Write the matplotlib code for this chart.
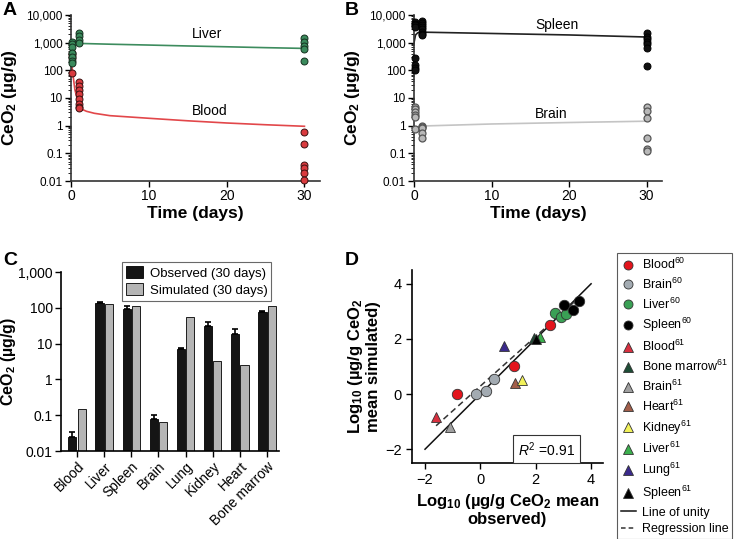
import numpy as np
import matplotlib
matplotlib.use('Agg')
import matplotlib.pyplot as plt
from matplotlib.ticker import FixedLocator, FuncFormatter, LogLocator, NullFormatter
from matplotlib.lines import Line2D

plt.rcParams['font.family'] = ['Liberation Sans', 'DejaVu Sans']
plt.rcParams['mathtext.fontset'] = 'custom'
plt.rcParams['mathtext.rm'] = 'Liberation Sans'
plt.rcParams['mathtext.it'] = 'Liberation Sans:italic'
plt.rcParams['mathtext.bf'] = 'Liberation Sans:bold'

# ---- Panel A / B observed points (time in days, CeO2 ug/g) ----
liver_t = [0.1] * 7 + [1] * 4 + [30] * 5
liver_obs = [1085, 900, 715, 410, 310, 222, 190, 2180, 1740, 1250, 950, 1510, 1085, 777, 575, 222]
blood_t = [0.1] * 4 + [1] * 8 + [30] * 6
blood_obs = [436, 356, 270, 78, 39, 27, 19.5, 13.5, 8.9, 6.3, 4.8, 4.2, 0.575, 0.21, 0.037, 0.029, 0.02, 0.011]
spleen_t = [0.1] * 8 + [1] * 8 + [30] * 7
spleen_obs = [5700, 4800, 4200, 3800, 270, 155, 125, 102,
              6200, 5300, 4400, 3600, 3000, 2500, 2100, 1900,
              2180, 1650, 1320, 1080, 870, 660, 147]
brain_t = [0.1] * 6 + [1] * 5 + [30] * 6
brain_obs = [4.9, 4.0, 3.2, 2.5, 2.0, 0.78, 1.0, 0.9, 0.79, 0.56, 0.37, 4.6, 3.5, 1.9, 0.36, 0.14, 0.125]

# simulated curves
blood_sim_t = [0, 0.1, 0.5, 1.0, 1.5, 2, 3, 5, 10, 15, 20, 25, 30]
blood_sim = [400, 150, 20, 5.5, 3.8, 3.3, 2.8, 2.3, 1.85, 1.5, 1.25, 1.08, 0.95]
liver_sim_t = [0, 0.1, 0.5, 1, 5, 10, 15, 20, 25, 30]
liver_sim = [300, 900, 950, 940, 880, 820, 760, 710, 660, 620]
spleen_sim_t = [0, 0.2, 0.5, 1, 10, 20, 30]
spleen_sim = [1000, 1900, 2300, 2400, 2150, 1900, 1600]
brain_sim_t = [0, 0.5, 1, 10, 20, 30]
brain_sim = [0.75, 0.9, 0.97, 1.15, 1.3, 1.45]

# ---- Panel C ----
organs = ['Blood', 'Liver', 'Spleen', 'Brain', 'Lung', 'Kidney', 'Heart', 'Bone marrow']
observed_30 = [0.025, 140, 95, 0.08, 7.2, 31, 18, 78]
observed_err = [0.01, 5, 15, 0.02, 0.5, 8, 7, 4]
simulated_30 = [0.15, 130, 115, 0.066, 57, 3.3, 2.6, 115]

# ---- Panel D (log10 observed, log10 simulated) ----
d_series = [
    ('Blood$^{60}$', 'o', '#e3141c', [-0.85, 1.2, 2.53], [0.0, 1.02, 2.5]),
    ('Brain$^{60}$', 'o', '#a3abb2', [-0.15, 0.2, 0.5], [0.0, 0.12, 0.54]),
    ('Liver$^{60}$', 'o', '#3aa055', [2.7, 2.9, 3.1], [2.95, 2.78, 2.9]),
    ('Spleen$^{60}$', 'o', '#000000', [3.01, 3.35, 3.55], [3.24, 3.04, 3.38]),
    ('Blood$^{61}$', '^', '#d8303f', [-1.61], [-0.83]),
    ('Bone marrow$^{61}$', '^', '#1e4d36', [1.92], [2.03]),
    ('Brain$^{61}$', '^', '#a0a0a0', [-1.09], [-1.19]),
    ('Heart$^{61}$', '^', '#a25e4a', [1.26], [0.41]),
    ('Kidney$^{61}$', '^', '#f2f25a', [1.5], [0.51]),
    ('Liver$^{61}$', '^', '#3cb04e', [2.14], [2.08]),
    ('Lung$^{61}$', '^', '#3b2a8c', [0.86], [1.75]),
    ('Spleen$^{61}$', '^', '#000000', [2.0], [2.0]),
]
unity_x = [-2, 4]
regress_x = [-1.6, 3.5]
regress_slope = 0.9
regress_icpt = 0.29

W, H = 745, 539
fig = plt.figure(figsize=(W / 100, H / 100), dpi=100)


def fpos(l, t, r, b):
    return [l / W, 1 - b / H, (r - l) / W, (b - t) / H]


def comma_fmt(v, pos):
    if v >= 1:
        return '{:,.0f}'.format(v)
    return '{:g}'.format(v)


def style_time_axis(ax):
    ax.set_yscale('log')
    ax.set_ylim(0.01, 10000)
    ax.set_xlim(0, 32)
    ax.set_xticks([0, 10, 20, 30])
    ax.yaxis.set_major_locator(FixedLocator([0.01, 0.1, 1, 10, 100, 1000, 10000]))
    ax.yaxis.set_major_formatter(FuncFormatter(comma_fmt))
    ax.yaxis.set_minor_locator(LogLocator(base=10, subs=np.arange(2, 10), numticks=20))
    ax.yaxis.set_minor_formatter(NullFormatter())
    for s in ['top', 'right']:
        ax.spines[s].set_visible(False)
    ax.tick_params(axis='both', which='major', labelsize=8.5, length=4, width=1, direction='out', pad=2)
    ax.tick_params(axis='y', which='minor', length=2, width=0.6)
    ax.tick_params(axis='x', labelsize=10)
    ax.set_xlabel('Time (days)', fontsize=12.5, fontweight='bold', labelpad=2)
    ax.set_ylabel('CeO$_\\mathbf{2}$ (µg/g)', fontsize=12.5, fontweight='bold', labelpad=5)
    for s in ['left', 'bottom']:
        ax.spines[s].set_linewidth(1.2)
        ax.spines[s].set_color('#333333')


# ---- A ----
axA = fig.add_axes(fpos(71, 15, 320, 181))
style_time_axis(axA)
axA.plot(liver_sim_t, liver_sim, color='#3d8c5e', lw=1.2, zorder=2)
axA.plot(blood_sim_t, blood_sim, color='#e2474a', lw=1.2, zorder=2)
axA.plot(blood_t, blood_obs, 'o', ms=5, mfc='#d93a3e', mec='#3a1010', mew=0.7, clip_on=False, zorder=3)
axA.plot(liver_t, liver_obs, 'o', ms=5, mfc='#3a8a5c', mec='#15301f', mew=0.7, clip_on=False, zorder=4)
axA.text(17.5, 2050, 'Liver', fontsize=10, ha='center', va='center')
axA.text(17.8, 3.4, 'Blood', fontsize=10, ha='center', va='center')

# ---- B ----
axB = fig.add_axes(fpos(414, 15, 662, 181))
style_time_axis(axB)
axB.plot(spleen_sim_t, spleen_sim, color='#222222', lw=1.2, zorder=2)
axB.plot(brain_sim_t, brain_sim, color='#c4c4c4', lw=1.2, zorder=2)
axB.plot(spleen_t, spleen_obs, 'o', ms=5, mfc='#111111', mec='#000000', mew=0.7, clip_on=False, zorder=3)
axB.plot(brain_t, brain_obs, 'o', ms=5, mfc='#b8b8b8', mec='#555555', mew=0.9, clip_on=False, zorder=3)
axB.text(18.4, 4340, 'Spleen', fontsize=10, ha='center', va='center')
axB.text(17.7, 2.6, 'Brain', fontsize=10, ha='center', va='center')

# ---- C ----
axC = fig.add_axes(fpos(61, 272, 279, 451))
x = np.arange(len(organs))
bw = 0.3
axC.bar(x - 0.17, observed_30, bw, color='#151515', edgecolor='#000000', lw=0.6,
        yerr=[np.zeros(len(organs)), observed_err], error_kw=dict(ecolor='#000000', capsize=2.5, elinewidth=1.2, capthick=1.2),
        label='Observed (30 days)', zorder=2)
axC.bar(x + 0.17, simulated_30, bw, color='#b5b5b5', edgecolor='#000000', lw=0.6,
        label='Simulated (30 days)', zorder=2)
axC.set_yscale('log')
axC.set_ylim(0.01, 1000)
axC.set_xlim(-0.59, 7.44)
axC.yaxis.set_major_locator(FixedLocator([0.01, 0.1, 1, 10, 100, 1000]))
axC.yaxis.set_major_formatter(FuncFormatter(comma_fmt))
axC.yaxis.set_minor_formatter(NullFormatter())
axC.tick_params(axis='y', which='minor', length=0)
axC.set_xticks(x)
axC.set_xticklabels(organs, rotation=45, ha='right', rotation_mode='anchor', fontsize=10)
axC.tick_params(axis='both', which='major', labelsize=10, length=4, width=1, pad=2)
for s in ['top', 'right']:
    axC.spines[s].set_visible(False)
for s in ['left', 'bottom']:
    axC.spines[s].set_linewidth(1.2)
axC.set_ylabel('CeO$_\\mathbf{2}$ (µg/g)', fontsize=11.5, fontweight='bold', labelpad=0)
leg = axC.legend(loc='upper right', bbox_to_anchor=(0.995, 1.09), fontsize=9.5, frameon=True,
                 fancybox=False, edgecolor='#444444', handlelength=1.3, handleheight=1.0,
                 borderpad=0.3, labelspacing=0.25, handletextpad=0.5)
leg.get_frame().set_linewidth(0.8)

# ---- D ----
axD = fig.add_axes(fpos(412, 270, 603, 463))
axD.plot(unity_x, unity_x, color='#111111', lw=1.1, zorder=2)
rx = np.array(regress_x)
axD.plot(rx, regress_slope * rx + regress_icpt, color='#333333', lw=1.1, ls=(0, (4, 2.5)), zorder=2)
handles = []
for name, mk, col, xs, ys in d_series:
    ms = 7.5 if mk == 'o' else 7
    axD.plot(xs, ys, mk, ms=ms, mfc=col, mec='#333333', mew=0.6, zorder=3)
    handles.append(Line2D([], [], marker=mk, ls='none', ms=6.5, mfc=col, mec='#333333', mew=0.6, label=name))
handles.append(Line2D([], [], color='#111111', lw=1.1, label='Line of unity'))
handles.append(Line2D([], [], color='#333333', lw=1.1, ls=(0, (3, 2)), label='Regression line'))
axD.set_xlim(-2.47, 4.43)
axD.set_ylim(-2.5, 4.5)
axD.set_xticks([-2, 0, 2, 4])
axD.set_yticks([-2, 0, 2, 4])
axD.set_xticklabels(['\u22122', '0', '2', '4'])
axD.set_yticklabels(['\u22122', '0', '2', '4'])
axD.tick_params(axis='both', labelsize=10.5, length=4, width=1)
for s in ['top', 'right']:
    axD.spines[s].set_visible(False)
for s in ['left', 'bottom']:
    axD.spines[s].set_linewidth(1.2)
axD.set_xlabel('Log$_\\mathbf{10}$ (µg/g CeO$_\\mathbf{2}$ mean\nobserved)', fontsize=12, fontweight='bold',
               labelpad=3, linespacing=1.1)
axD.set_ylabel('Log$_\\mathbf{10}$ (µg/g CeO$_\\mathbf{2}$\nmean simulated)', fontsize=12, fontweight='bold',
               labelpad=3, linespacing=1.1)
axD.text(2.4, -2.0, '$\\mathit{R}^2$ =0.91', fontsize=10, ha='center', va='center',
         bbox=dict(boxstyle='square,pad=0.35', fc='white', ec='#333333', lw=0.8))
legD = fig.legend(handles=handles, loc='upper left', bbox_to_anchor=(617 / W, 1 - 253 / H),
                  fontsize=9, frameon=True, fancybox=False, edgecolor='#333333',
                  handlelength=1.2, handletextpad=0.5, labelspacing=0.37, borderpad=0.3,
                  borderaxespad=0)
legD.get_frame().set_linewidth(0.8)

# panel letters
for lbl, px, py in [('A', 3, 2), ('B', 345, 2), ('C', 3, 252), ('D', 345, 252)]:
    fig.text(px / W, 1 - py / H, lbl, fontsize=14, fontweight='bold', ha='left', va='top')

fig.savefig('out.png', dpi=100)
